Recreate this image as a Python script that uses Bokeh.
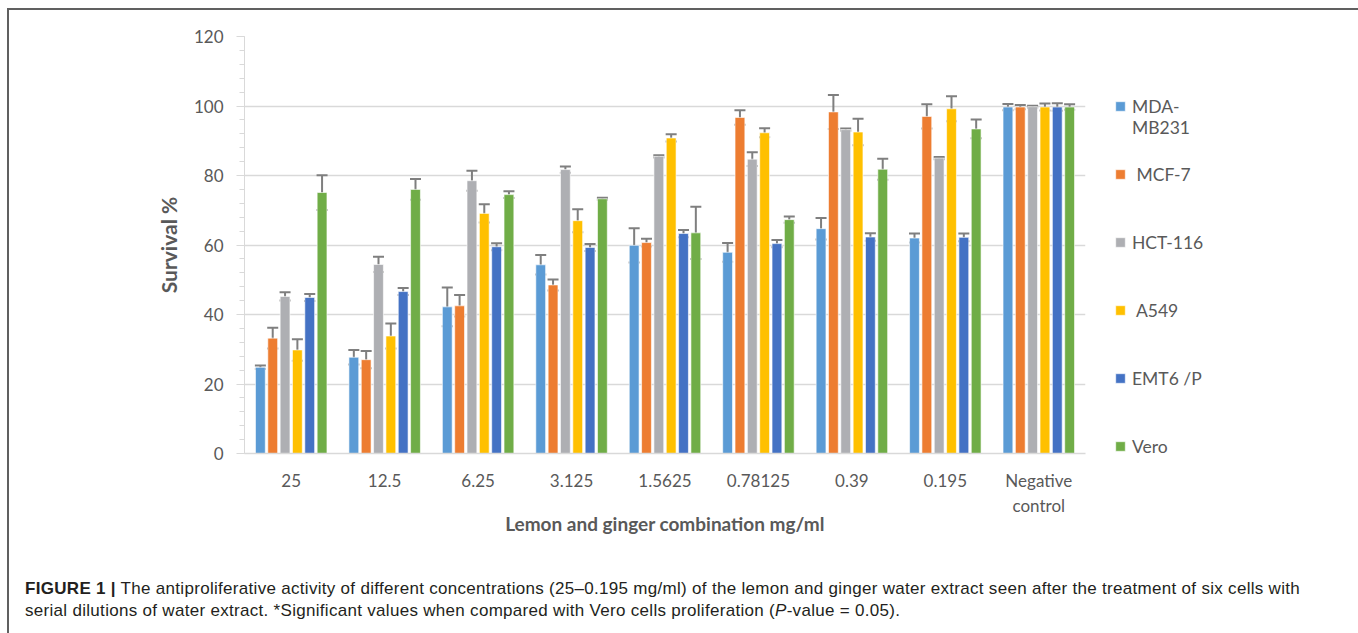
from bokeh.plotting import figure
from bokeh.models import (ColumnDataSource, FactorRange, Range1d, Whisker, Legend, LegendItem,
                          Div, TeeHead, SingleIntervalTicker)
from bokeh.transform import dodge
from bokeh.layouts import column
from bokeh.embed import file_html
from bokeh.resources import INLINE

concentrations = ["25", "12.5", "6.25", "3.125", "1.5625", "0.78125", "0.39", "0.195", "Negative\ncontrol"]
cell_lines = ["\nMDA-\nMB231", " MCF-7", "HCT-116", " A549", "EMT6 /P", "Vero"]

mda = [24.8, 27.7, 42.2, 54.3, 59.9, 57.9, 64.7, 62.0, 99.7]
mda_err = [0.5, 2.1, 5.6, 2.8, 4.9, 2.7, 3.1, 1.3, 0.9]
mcf = [33.2, 27.0, 42.5, 48.5, 60.7, 96.7, 98.3, 97.0, 99.7]
mcf_err = [3.0, 2.5, 3.1, 1.6, 1.1, 2.1, 4.9, 3.5, 0.6]
hct = [45.2, 54.4, 78.5, 81.7, 85.5, 84.7, 93.2, 85.0, 99.8]
hct_err = [1.2, 2.2, 2.9, 0.9, 0.3, 2.0, 0.3, 0.3, 0.3]
a549 = [29.8, 33.8, 69.1, 67.0, 90.8, 92.3, 92.5, 99.2, 99.7]
a549_err = [3.1, 3.6, 2.6, 3.3, 1.05, 1.3, 3.8, 3.6, 1.0]
emt6 = [44.9, 46.6, 59.5, 59.3, 63.3, 60.4, 62.3, 62.2, 99.7]
emt6_err = [1.0, 1.0, 1.0, 1.0, 1.05, 1.05, 1.05, 1.1, 1.1]
vero = [75.1, 76.0, 74.5, 73.3, 63.5, 67.3, 81.8, 93.4, 99.7]
vero_err = [5.0, 3.0, 1.0, 0.3, 7.5, 0.9, 3.0, 2.7, 0.8]

series = [mda, mcf, hct, a549, emt6, vero]
errors = [mda_err, mcf_err, hct_err, a549_err, emt6_err, vero_err]
colors = ["#5B9BD5", "#ED7D31", "#AEAFB3", "#FFC000", "#4472C4", "#70AD47"]

TEXT = "#595959"
GRID = "#D9D9D9"

p = figure(x_range=FactorRange(*concentrations), y_range=Range1d(0, 120),
           frame_width=841, frame_height=417, output_backend="svg", toolbar_location=None,
           min_border_left=235, min_border_right=0, min_border_top=26, min_border_bottom=107)
p.outline_line_color = None
p.xgrid.grid_line_color = None
p.ygrid.grid_line_color = GRID
p.ygrid.grid_line_width = 1.3

step = 0.132
bar_w = 0.105
items = []
for i, (vals, errs, col, name) in enumerate(zip(series, errors, colors, cell_lines)):
    off = (i - 2.5) * step
    src = ColumnDataSource(dict(x=concentrations, top=vals,
                                upper=[v + e for v, e in zip(vals, errs)],
                                lower=[v - e for v, e in zip(vals, errs)]))
    r = p.vbar(x=dodge("x", off, range=p.x_range), top="top", width=bar_w, source=src,
               fill_color=col, line_color="white", line_alpha=0.6, line_width=1)
    w = Whisker(source=src, base=dodge("x", off, range=p.x_range), upper="upper", lower="lower",
                line_color="#7F7F7F", line_width=2,
                upper_head=TeeHead(size=11, line_color="#7F7F7F", line_width=2),
                lower_head=TeeHead(size=11, line_color="#7F7F7F", line_width=2))
    p.add_layout(w)
    items.append(LegendItem(label=name, renderers=[r]))

legend = Legend(items=items, location=(29, -27), orientation="vertical",
                glyph_width=12, glyph_height=12, label_standoff=6, spacing=0,
                label_height=68, label_text_baseline="top", label_text_line_height=1.28,
                label_text_font="Lato", label_text_font_size="17.5px", label_text_color=TEXT,
                border_line_color=None, background_fill_alpha=0, padding=0, margin=0)
p.add_layout(legend, "right")

p.yaxis.ticker = SingleIntervalTicker(interval=20, num_minor_ticks=5)
p.yaxis.axis_line_color = GRID
p.yaxis.major_tick_line_color = GRID
p.yaxis.minor_tick_line_color = GRID
p.yaxis.major_tick_out = 8
p.yaxis.major_tick_in = 0
p.yaxis.minor_tick_out = 5
p.yaxis.minor_tick_in = 0
p.yaxis.major_label_text_font = "Lato"
p.yaxis.major_label_text_font_size = "17px"
p.yaxis.major_label_text_color = TEXT
p.yaxis.major_label_standoff = 13
p.yaxis.axis_label = "Survival %"
p.yaxis.axis_label_text_font = "Lato"
p.yaxis.axis_label_text_font_style = "bold"
p.yaxis.axis_label_text_font_size = "21px"
p.yaxis.axis_label_text_color = TEXT
p.yaxis.axis_label_standoff = 10

p.xaxis.axis_line_color = GRID
p.xaxis.axis_line_width = 1.3
p.xaxis.major_tick_line_color = None
p.xaxis.minor_tick_line_color = None
p.xaxis.major_label_text_font = "Lato"
p.xaxis.major_label_text_font_size = "17px"
p.xaxis.major_label_text_color = TEXT
p.xaxis.major_label_standoff = 10
p.xaxis.axis_label = "Lemon and ginger combination mg/ml"
p.xaxis.axis_label_text_font = "Lato"
p.xaxis.axis_label_text_font_style = "bold"
p.xaxis.axis_label_text_font_size = "19px"
p.xaxis.axis_label_text_color = TEXT
p.xaxis.axis_label_standoff = -7

caption = Div(
    text=("<b>FIGURE 1 |</b> The antiproliferative activity of different concentrations (25&ndash;0.195 mg/ml) "
          "of the lemon and ginger water extract seen after the treatment of six cells with<br>"
          "serial dilutions of water extract. *Significant values when compared with Vero cells "
          "proliferation (<i>P</i>-value = 0.05)."),
    width=1344, height=64,
    styles={"font-family": "Liberation Sans, Arial, sans-serif", "font-size": "17px",
            "letter-spacing": "0.3px", "white-space": "nowrap",
            "line-height": "22px", "color": "#231F20", "padding-left": "11px",
            "padding-top": "13px", "box-sizing": "border-box"})

layout = column(p, caption, styles={"border-top": "2px solid #606060",
                                    "border-left": "2px solid #606060",
                                    "border-right": "2px solid #606060",
                                    "margin-left": "7px", "margin-top": "8px"})

open("out.html", "w").write(file_html(layout, INLINE))
